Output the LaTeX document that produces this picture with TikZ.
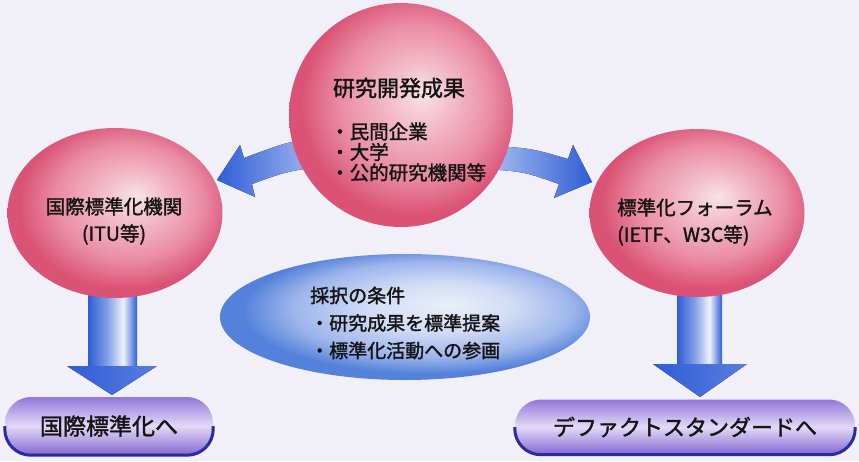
\documentclass[tikz,border=0pt]{standalone}
\usepackage{fontspec}
\newfontfamily\jp[AutoFakeBold=1.6]{Noto Sans CJK JP}
\usetikzlibrary{shapes.geometric}
\definecolor{bg}{HTML}{F1EFF8}
\definecolor{pk0}{HTML}{F8E2E9}
\definecolor{pk1}{HTML}{F3BDCB}
\definecolor{pk2}{HTML}{EA8CA4}
\definecolor{pk3}{HTML}{DA5276}
\definecolor{bl0}{HTML}{ECEFFB}
\definecolor{bl1}{HTML}{D0DBF5}
\definecolor{bl2}{HTML}{9CB5EB}
\definecolor{bl3}{HTML}{5482DA}
\definecolor{ab}{HTML}{2F5DD6}
\definecolor{am}{HTML}{7E9DE6}
\definecolor{aw}{HTML}{EEF2FC}
\definecolor{alight}{HTML}{A9BEF0}
\definecolor{pu0}{HTML}{9277DA}
\definecolor{pu1}{HTML}{E2DAF7}
\definecolor{pu2}{HTML}{8466D2}
\definecolor{puedge}{HTML}{2A2C9C}
\definecolor{txt}{HTML}{141414}
\pgfdeclareradialshading{pinksph}{\pgfpoint{5bp}{5bp}}{color(0bp)=(pk0); color(7bp)=(pk1); color(17bp)=(pk2); color(25bp)=(pk3); color(50bp)=(pk3)}
\pgfdeclareradialshading{bluesph}{\pgfpoint{6bp}{5bp}}{color(0bp)=(bl0); color(10bp)=(bl1); color(19bp)=(bl2); color(25bp)=(bl3); color(50bp)=(bl3)}
\pgfdeclarehorizontalshading{shaftsh}{100bp}{color(0bp)=(ab); color(25bp)=(ab); color(44bp)=(am); color(61bp)=(aw); color(69bp)=(am); color(75bp)=(ab); color(100bp)=(ab)}
\begin{document}
\begin{tikzpicture}[x=1pt,y=-1pt,
  sph/.style={ellipse, shading=pinksph, inner sep=0pt},
  blob/.style={ellipse, shading=bluesph, inner sep=0pt},
  lbl/.style={font=\jp\bfseries\fontsize{19.5pt}{27pt}\selectfont, text=txt, inner sep=0pt},
  pilltext/.style={font=\jp\bfseries\fontsize{22pt}{26pt}\selectfont, text=txt},
  pill/.style={rectangle, rounded corners=26pt, top color=pu0, bottom color=pu2, middle color=pu1, inner sep=0pt},
  pilledge/.style={draw=puedge, line width=3pt, rounded corners=26pt},
  shaft/.style={shading=shaftsh},
  arrowhead/.style={left color=ab, right color=ab!80!white}
]
\useasboundingbox (0,0) rectangle (859,461);
\fill[bg] (0,0) rectangle (859,461);

% curved arrows (drawn first, partly hidden by the top sphere)
\fill[left color=ab, right color=alight]
  (320,139) .. controls (290,141) .. (244,158) -- (240,145) -- (217,180)
  -- (255,197) -- (252,184) .. controls (285,172) .. (322,166) -- cycle;
\fill[left color=alight, right color=ab]
  (488,146) .. controls (530,148) .. (568,159) -- (573,145) -- (592,182)
  -- (554,198) -- (559,184) .. controls (525,172) .. (488,169) -- cycle;

% down arrows
\fill[shaft] (88,284) rectangle (137,368);
\fill[arrowhead] (67,366) -- (157,366) -- (112,395) -- cycle;
\fill[shaft] (677,284) rectangle (722,366);
\fill[arrowhead] (653,364) -- (747,364) -- (700,397) -- cycle;

% spheres
\node[sph, minimum width=215pt, minimum height=170pt] (lsph) at (115,213) {};
\node[sph, minimum width=215pt, minimum height=168pt] (rsph) at (697,213) {};
\node[blob, minimum width=370pt, minimum height=126pt] (cond) at (405,317) {};
\node[sph, minimum size=224pt] (top) at (401,115) {};

% texts
\node[lbl, font=\jp\bfseries\fontsize{22pt}{26pt}\selectfont] (toptitle) at (399,88) {研究開発成果};
\node[lbl, align=left, anchor=west, font=\jp\bfseries\fontsize{19.5pt}{20.5pt}\selectfont] (topitems) at (330,152) {・民間企業\\・大学\\・公的研究機関等};
\node[lbl, align=center] (ltext) at (114,221) {国際標準化機関\\(ITU等)};
\node[lbl, align=left, anchor=west] (rtext) at (617,222) {標準化フォーラム\\(IETF、W3C等)};
\node[lbl, align=left, anchor=west, font=\jp\bfseries\fontsize{19pt}{27.5pt}\selectfont] (condtext) at (310,323) {採択の条件\\・研究成果を標準提案\\・標準化活動への参画};

% pills
\node[pill, minimum width=208pt, minimum height=58pt] (lpill) at (109,426) {};
\draw[pilledge] (lpill.west) -- (lpill.south west) -- (lpill.south east) -- (lpill.east);
\node[pilltext, font=\jp\bfseries\fontsize{23pt}{26pt}\selectfont] (lpilltext) at (lpill.center) {国際標準化へ};
\node[pill, minimum width=340pt, minimum height=55pt] (rpill) at (685,427) {};
\draw[pilledge] (rpill.west) -- (rpill.south west) -- (rpill.south east) -- (rpill.east);
\node[pilltext] (rpilltext) at (rpill.center) {デファクトスタンダードへ};
\end{tikzpicture}
\end{document}
